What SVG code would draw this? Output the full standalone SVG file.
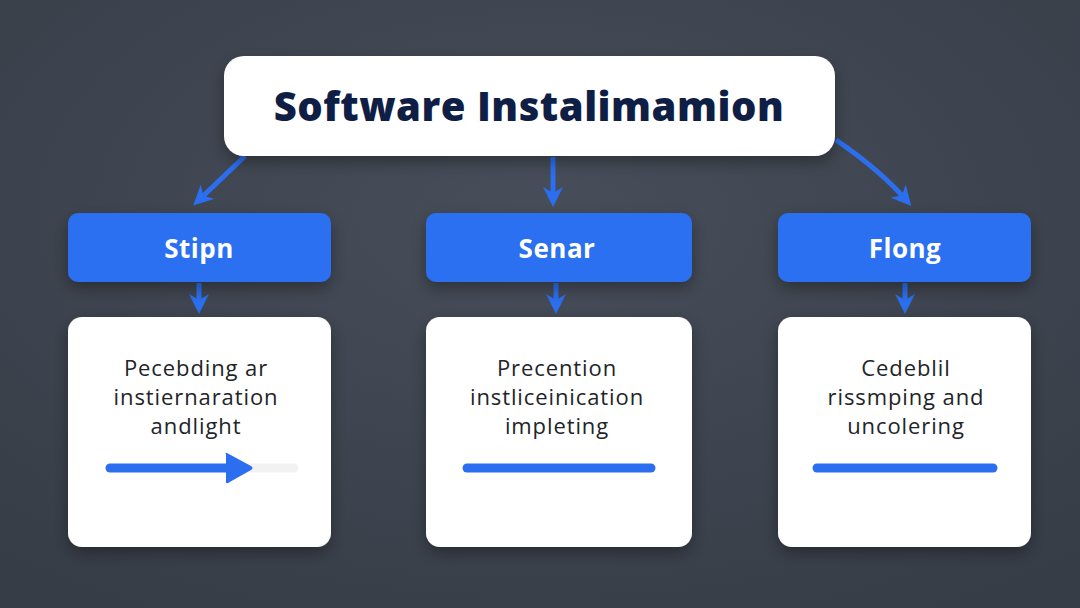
<svg xmlns="http://www.w3.org/2000/svg" width="1080" height="608" viewBox="0 0 1080 608">
<defs>
  <radialGradient id="bg" cx="50%" cy="35%" r="75%">
    <stop offset="0" stop-color="#474e5a"/>
    <stop offset="1" stop-color="#373d47"/>
  </radialGradient>
  <filter id="sh" x="-20%" y="-20%" width="140%" height="150%">
    <feDropShadow dx="0" dy="6" stdDeviation="8" flood-color="#000" flood-opacity="0.35"/>
  </filter>
  <marker id="ah" viewBox="0 0 10 10" refX="6" refY="5" markerWidth="4" markerHeight="4" orient="auto">
    <path d="M0,0 L10,5 L0,10 L3,5 Z" fill="#2b6ff0"/>
  </marker>
  <style>
    .title{font-family:"Open Sans","Liberation Sans",sans-serif;font-weight:800;font-size:40px;letter-spacing:0.5px;fill:#0f1e45;text-anchor:middle}
    .hdr{fill:#2b6ff0}
    .hdrt{font-family:"Open Sans","Liberation Sans",sans-serif;font-weight:700;font-size:26px;letter-spacing:0.5px;fill:#ffffff;text-anchor:middle}
    .card{fill:#ffffff}
    .body{font-family:"Open Sans","Liberation Sans",sans-serif;font-size:22px;letter-spacing:0.9px;fill:#222428;text-anchor:middle}
    .conn{stroke:#2b6ff0;stroke-width:5;fill:none}
    .bar{stroke:#2b6ff0;stroke-width:9;stroke-linecap:round;fill:none}
    .track{stroke:#f2f2f2;stroke-width:9;stroke-linecap:round;fill:none}
  </style>
</defs>
<rect width="1080" height="608" fill="url(#bg)"/>

<g id="connectors">
  <path class="conn" d="M245,156 L199,200" marker-end="url(#ah)"/>
  <path class="conn" d="M553,157 L553,199" marker-end="url(#ah)"/>
  <path class="conn" d="M836,140 Q880,170 906,200" marker-end="url(#ah)"/>
  <path class="conn" d="M199,283 L199,306" marker-end="url(#ah)"/>
  <path class="conn" d="M556,283 L556,306" marker-end="url(#ah)"/>
  <path class="conn" d="M905,283 L905,306" marker-end="url(#ah)"/>
</g>

<g id="title">
  <rect x="224" y="56" width="611" height="100" rx="20" fill="#ffffff" filter="url(#sh)"/>
  <text class="title" x="529" y="121">Software Instalimamion</text>
</g>

<g id="step1">
  <rect class="hdr" x="68" y="213" width="263" height="69" rx="10" filter="url(#sh)"/>
  <text class="hdrt" x="199" y="258">Stipn</text>
</g>
<g id="step2">
  <rect class="hdr" x="426" y="213" width="266" height="69" rx="10" filter="url(#sh)"/>
  <text class="hdrt" x="557" y="258">Senar</text>
</g>
<g id="step3">
  <rect class="hdr" x="778" y="213" width="253" height="69" rx="10" filter="url(#sh)"/>
  <text class="hdrt" x="905" y="258">Flong</text>
</g>

<g id="card1">
  <rect class="card" x="68" y="317" width="263" height="230" rx="14" filter="url(#sh)"/>
  <text class="body" x="196" y="376">Pecebding ar</text>
  <text class="body" x="196" y="405">instiernaration</text>
  <text class="body" x="196" y="434">andlight</text>
  <line class="track" x1="240" y1="468" x2="294" y2="468"/>
  <line class="bar" x1="110" y1="468" x2="230" y2="468"/>
  <path d="M226,454 Q224,452 227,453 L251,466 Q254,468 251,470 L228,483 Q225,484 226,481 Z" fill="#2b6ff0"/>
</g>
<g id="card2">
  <rect class="card" x="426" y="317" width="266" height="230" rx="14" filter="url(#sh)"/>
  <text class="body" x="557" y="376">Precention</text>
  <text class="body" x="557" y="405">instliceinication</text>
  <text class="body" x="557" y="434">impleting</text>
  <line class="bar" x1="467" y1="468" x2="651" y2="468"/>
</g>
<g id="card3">
  <rect class="card" x="778" y="317" width="253" height="230" rx="14" filter="url(#sh)"/>
  <text class="body" x="906" y="376">Cedeblil</text>
  <text class="body" x="906" y="405">rissmping and</text>
  <text class="body" x="906" y="434">uncolering</text>
  <line class="bar" x1="817" y1="468" x2="993" y2="468"/>
</g>
</svg>
